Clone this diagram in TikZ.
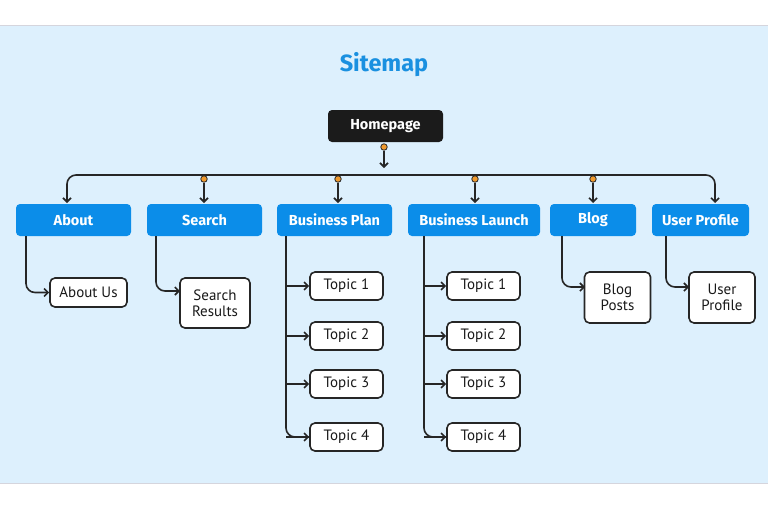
\documentclass[tikz,border=0pt]{standalone}
\usepackage{fontspec}
\setmainfont{Fira Sans}
\newfontfamily\narrowfont{PT Sans}
\usetikzlibrary{arrows.meta, positioning}

\definecolor{panelblue}{HTML}{DDF0FD}
\definecolor{headblue}{HTML}{0B8DE9}
\definecolor{titleblue}{HTML}{1A90E0}
\definecolor{darkbox}{HTML}{1B1B1B}
\definecolor{linegray}{HTML}{262626}
\definecolor{dotorange}{HTML}{F09A2E}

\tikzset{
  headbox/.style={fill=headblue, rounded corners=4pt, minimum height=32pt,
    text=white, font=\fontsize{14.5}{16}\selectfont\bfseries, inner sep=0pt},
  leafbox/.style={draw=linegray, line width=1.6pt, fill=white, rounded corners=5pt,
    text=black!90, font=\narrowfont\fontsize{15}{16.5}\selectfont, inner sep=0pt,
    align=center},
  link/.style={draw=linegray, line width=1.6pt, -{Straight Barb[length=4pt,width=8pt]}},
  pin dot/.style={circle, fill=dotorange, draw=linegray, line width=0.8pt,
    inner sep=0pt, minimum size=6.5pt}
}

\begin{document}
\begin{tikzpicture}[x=1pt, y=-1pt]
  \useasboundingbox (0,0) rectangle (768,507);
  \fill[white] (0,0) rectangle (768,507);
  \fill[panelblue] (0,25) rectangle (768,483);
  \draw[blue!10!gray!30, line width=0.8pt] (0,25) -- (768,25);
  \draw[blue!10!gray!30, line width=0.8pt] (0,483) -- (768,483);

  \node[text=titleblue, font=\fontsize{23.5}{26}\selectfont\bfseries] (title) at (384,65) {Sitemap};

  % top level
  \node[fill=darkbox, rounded corners=4pt, minimum width=115pt, minimum height=32pt,
    text=white, font=\fontsize{14.5}{16}\selectfont\bfseries] (home) at (385.5,126) {Homepage};

  \node[headbox, minimum width=115pt] (about)  at (73.5,220)  {About};
  \node[headbox, minimum width=115pt] (search) at (204.5,220) {Search};
  \node[headbox, minimum width=115pt] (plan)   at (334.5,220) {Business Plan};
  \node[headbox, minimum width=132pt] (launch) at (474,220)   {Business Launch};
  \node[headbox, minimum width=86pt]  (blog)   at (593,220)   {Blog};
  \node[headbox, minimum width=97pt]  (user)   at (700.5,220) {User Profile};

  % bus
  \node[pin dot] (homedot) at (384,147) {};
  \coordinate (busmid) at (384,175);
  \coordinate (busleft) at (67,175);
  \coordinate (busright) at (715,175);
  \draw[link] (homedot) -- (384,168);
  \draw[link, rounded corners=9pt] (busmid) -- (busleft) -- (67,203);
  \draw[link, rounded corners=9pt] (busmid) -- (busright) -- (715,203);

  \foreach \n/\x in {search/204, plan/338, launch/475, blog/593} {
    \node[pin dot] (\n dot) at (\x,179) {};
    \draw[link] (\n dot) -- (\x,203);
  }

  % leaves
  \node[leafbox, minimum width=77pt, minimum height=29pt] (aboutus) at (88.5,292.5) {About Us};
  \node[leafbox, minimum width=70pt, minimum height=50pt] (results) at (215,303) {Search\\[-1pt]Results};
  \node[leafbox, minimum width=66pt, minimum height=51pt] (posts) at (617.5,297.5) {Blog\\[-1pt]Posts};
  \node[leafbox, minimum width=66pt, minimum height=51pt] (profile) at (722,297.5) {User\\[-1pt]Profile};

  \draw[link, rounded corners=9pt] (26,236) |- (aboutus.west);
  \draw[link, rounded corners=9pt] (156,236) |- (180,291);
  \draw[link, rounded corners=9pt] (562,236) |- (585,287);
  \draw[link, rounded corners=9pt] (666,236) |- (689,287);

  \foreach \col/\lx/\bx in {plan/286/346.5, launch/424/483.5} {
    \foreach \i/\y in {1/286, 2/336, 3/384, 4/437} {
      \node[leafbox, minimum width=73pt, minimum height=28pt] (\col topic\i) at (\bx,\y) {Topic \i};
    }
    \draw[line width=1.6pt, draw=linegray, rounded corners=9pt]
      (\lx,236) |- (\col topic4.west);
    \draw[link] (\lx,437) -- (\col topic4.west);
    \foreach \i in {1,2,3} {
      \draw[link] (\col topic\i.west -| \lx,0) -- (\col topic\i.west);
    }
  }
\end{tikzpicture}
\end{document}
